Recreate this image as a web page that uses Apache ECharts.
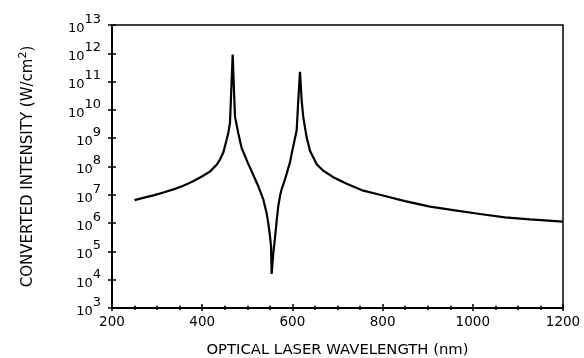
<!DOCTYPE html>
<html>
<head>
<meta charset="utf-8">
<script src="https://cdn.jsdelivr.net/npm/echarts@6/dist/echarts.min.js"></script>
<style>
  html, body { margin: 0; padding: 0; background: #fff; }
  #chart { width: 584px; height: 358px; }
</style>
</head>
<body>
<div id="chart"></div>
<script>
// wavelength (nm) and converted intensity (W/cm^2)
var wavelength = [250, 269, 292, 314, 336, 358, 380, 402, 417, 432, 439, 447, 454, 458, 461.6, 464.5, 467.6, 470.5, 472.7, 480, 487.5, 500.8, 513.3, 524.4, 535.4, 543, 546.5, 550.3, 552.5, 554, 557.6, 561.4, 565.1, 568.7, 572.5, 576.2, 583.5, 587.3, 594.6, 598.4, 609.5, 613, 616.8, 620.6, 624.1, 631.6, 639, 653.8, 668.5, 690.6, 720.3, 757.1, 794.2, 849.6, 905, 960.4, 1015.9, 1071.3, 1126.7, 1200];
var intensity = [6.5e6, 7.8e6, 9.5e6, 1.2e7, 1.55e7, 2.1e7, 3.0e7, 4.7e7, 6.6e7, 1.15e8, 1.7e8, 3.2e8, 8.7e8, 1.6e9, 3.5e9, 5.0e10, 9.0e11, 5.0e10, 5.8e9, 1.5e9, 4.5e8, 1.4e8, 5.0e7, 2.0e7, 7.0e6, 2.2e6, 1.0e6, 3.5e5, 1.6e5, 1.6e4, 8.3e4, 3.0e5, 1.2e6, 4.0e6, 9.0e6, 1.6e7, 3.5e7, 5.6e7, 1.4e8, 2.8e8, 1.9e9, 2.1e10, 2.2e11, 2.1e10, 5.5e9, 1.07e9, 3.6e8, 1.2e8, 7.1e7, 4.2e7, 2.45e7, 1.4e7, 1.0e7, 6.0e6, 3.8e6, 2.8e6, 2.1e6, 1.6e6, 1.35e6, 1.12e6];

var xTickLabels = [200, 400, 600, 800, 1000, 1200];
var yExponents = [3, 4, 5, 6, 7, 8, 9, 10, 11, 12, 13];

var font = 'DejaVu Sans, Verdana, sans-serif';
var chart = echarts.init(document.getElementById('chart'));

var points = wavelength.map(function (w, i) { return [w, intensity[i]]; });

var option = {
  animation: false,
  backgroundColor: '#fff',
  grid: {
    left: 112, right: 21, top: 25, bottom: 50,
    outerBoundsMode: 'none',
    show: true, borderColor: '#000', borderWidth: 1.5
  },
  xAxis: [{
    type: 'value', min: 200, max: 1200, interval: 200,
    axisLine: { lineStyle: { color: '#000', width: 2 } },
    axisTick: { inside: true, length: 4, lineStyle: { color: '#000', width: 1.5 } },
    minorTick: { show: true, splitNumber: 4, length: 2.5, lineStyle: { color: '#000', width: 1.5 } },
    splitLine: { show: false },
    axisLabel: {
      margin: 7, color: '#000', fontSize: 13.5, fontFamily: font,
      formatter: function (v) { return xTickLabels.indexOf(v) >= 0 ? String(v) : ''; }
    },
    name: 'OPTICAL LASER WAVELENGTH (nm)',
    nameLocation: 'middle', nameGap: 35,
    nameTextStyle: { color: '#000', fontSize: 14.8, fontFamily: font }
  }, {
    type: 'value', min: 200, max: 1200, interval: 200, position: 'bottom',
    axisLine: { show: false },
    axisTick: { inside: false, length: 3, lineStyle: { color: '#000', width: 1.5 } },
    minorTick: { show: true, splitNumber: 4, length: 2, lineStyle: { color: '#000', width: 1.5 } },
    splitLine: { show: false },
    axisLabel: { show: false }
  }],
  yAxis: [{
    type: 'log', logBase: 10, min: 1e3, max: 1e13,
    axisLine: { lineStyle: { color: '#000', width: 2 } },
    axisTick: { inside: true, length: 4, lineStyle: { color: '#000', width: 1.5 } },
    splitLine: { show: false },
    axisLabel: {
      margin: 11, color: '#000', fontFamily: font,
      padding: [0, 0, 2, 0],
      formatter: function (v) {
        var e = Math.round(Math.log10(v));
        return yExponents.indexOf(e) >= 0 ? '{b|10}{e|' + e + '}' : '';
      },
      rich: {
        b: { fontSize: 13, fontFamily: font, color: '#000', lineHeight: 22, verticalAlign: 'bottom' },
        e: { fontSize: 13, fontFamily: font, color: '#000', lineHeight: 13, verticalAlign: 'top' }
      }
    },
    name: 'CONVERTED INTENSITY (W/cm{s|2})',
    nameLocation: 'middle', nameGap: 74, nameRotate: 90,
    nameTextStyle: {
      color: '#000', fontSize: 15, fontFamily: font,
      rich: {
        s: { fontSize: 11, fontFamily: font, color: '#000', padding: [0, 0, 9, 0] }
      }
    }
  }, {
    type: 'log', logBase: 10, min: 1e3, max: 1e13, position: 'left',
    axisLine: { show: false },
    axisTick: { inside: false, length: 4, lineStyle: { color: '#000', width: 1.5 } },
    splitLine: { show: false },
    axisLabel: { show: false }
  }],
  series: [{
    type: 'line',
    xAxisIndex: 0, yAxisIndex: 0,
    data: points,
    showSymbol: false,
    smooth: false,
    lineStyle: { color: '#000', width: 2.2 }
  }]
};

chart.setOption(option);
</script>
</body>
</html>
